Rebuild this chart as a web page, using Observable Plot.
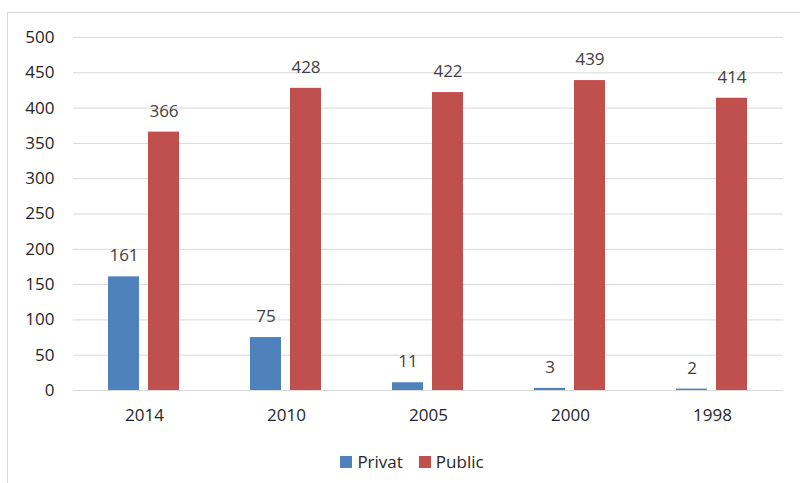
<!DOCTYPE html>
<html>
<head>
<meta charset="utf-8">
<script src="https://cdn.jsdelivr.net/npm/d3@7"></script>
<script src="https://cdn.jsdelivr.net/npm/@observablehq/plot@0.6"></script>
<style>
  html, body { margin: 0; padding: 0; background: #fff; }
  #wrap { position: relative; width: 800px; height: 483px; overflow: hidden; font-family: "Open Sans", sans-serif; }
  #frame { position: absolute; left: 7px; top: 12px; width: 900px; height: 600px; border: 1px solid #d9d9d9; box-sizing: border-box; }
  #chart { position: absolute; left: 0; top: 0; }
  #legend { position: absolute; top: 450px; left: 0; width: 824px; display: flex; justify-content: center; gap: 16px; font-size: 17px; color: #262626; }
  .item { display: flex; align-items: center; gap: 5px; }
  .sw { width: 12px; height: 12px; display: inline-block; }
</style>
</head>
<body>
<div id="wrap">
  <div id="frame"></div>
  <div id="chart"></div>
  <div id="legend"></div>
</div>
<script>
const years = ["2014", "2010", "2005", "2000", "1998"];
const series = ["Privat", "Public"];
const privat = [161, 75, 11, 3, 2];
const publicVals = [366, 428, 422, 439, 414];
const colors = ["#4F81BD", "#C0504D"];
const yTicks = [0, 50, 100, 150, 200, 250, 300, 350, 400, 450, 500];

const data = [];
years.forEach((y, i) => {
  data.push({year: y, series: "Privat", value: privat[i]});
  data.push({year: y, series: "Public", value: publicVals[i]});
});

const chart = Plot.plot({
  width: 800,
  height: 483,
  marginLeft: 71,
  marginRight: 16,
  marginTop: 37,
  marginBottom: 93,
  style: {fontFamily: "'Open Sans', sans-serif", fontSize: "17px", background: "transparent", overflow: "visible"},
  fx: {domain: years, padding: 0, axis: null},
  x: {domain: series, paddingInner: 0.22, paddingOuter: 0.85, axis: null},
  y: {domain: [0, 500]},
  color: {domain: series, range: colors},
  marks: [
    Plot.gridY(yTicks, {stroke: "#d9d9d9", strokeOpacity: 1, strokeWidth: 1}),
    Plot.axisY(yTicks, {tickSize: 0, tickPadding: 19, label: null, fill: "#262626", fontSize: 17}),
    Plot.axisFx({anchor: "bottom", tickSize: 0, tickPadding: 18, label: null, fill: "#262626", fontSize: 17}),
    Plot.barY(data, {fx: "year", x: "series", y: "value", fill: "series"}),
    Plot.text(data, {fx: "year", x: "series", y: "value", text: d => String(d.value), dy: -21, fill: "#404040", fontSize: 17})
  ]
});
document.getElementById("chart").appendChild(chart);

const legend = document.getElementById("legend");
series.forEach((s, i) => {
  const it = document.createElement("div");
  it.className = "item";
  it.innerHTML = `<span class="sw" style="background:${colors[i]}"></span><span>${s}</span>`;
  legend.appendChild(it);
});
</script>
</body>
</html>
